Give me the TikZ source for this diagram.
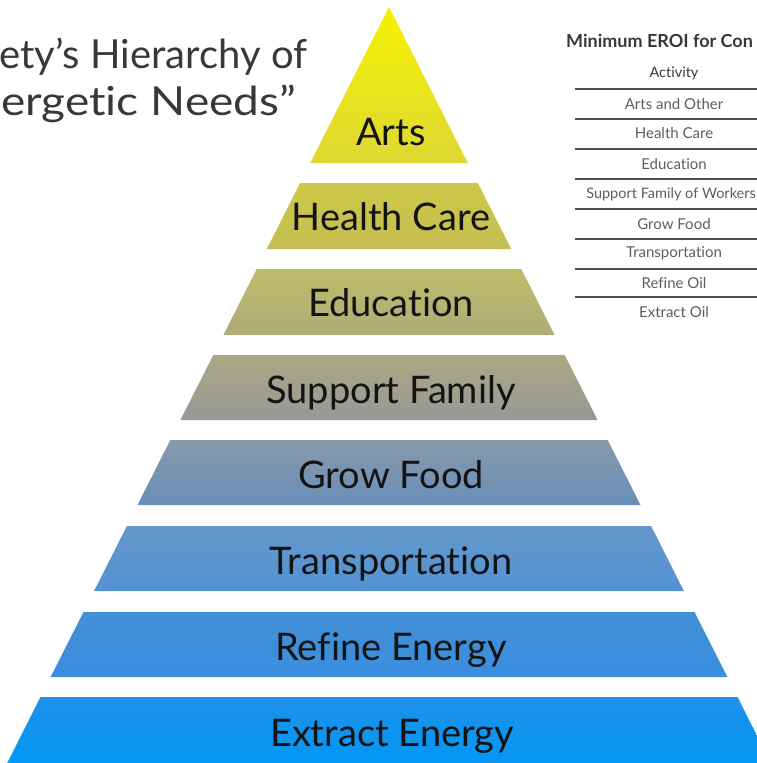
\documentclass[tikz,border=0pt]{standalone}
\usepackage{fontspec}
\setmainfont{Lato}[Ligatures=NoCommon]
\definecolor{titlegray}{HTML}{383838}
\definecolor{rowgray}{HTML}{5E5E5E}
\definecolor{rulegray}{HTML}{505050}
\definecolor{labelblack}{HTML}{141414}
\begin{document}
\begin{tikzpicture}[x=1pt,y=-1pt,
  layerlabel/.style={anchor=base,text=labelblack,font=\fontsize{38}{38}\selectfont,inner sep=0pt},
  rowtext/.style={anchor=center,text=rowgray,font=\fontsize{15}{16}\selectfont,inner sep=0pt},
  tablerule/.style={draw=rulegray,line width=1.1pt},
  bigtitle/.style={anchor=base west,text=titlegray,font=\fontsize{40}{40}\selectfont,inner sep=0pt}]
\useasboundingbox (0,0) rectangle (757,763);
\clip (0,0) rectangle (757,763);
% pyramid layers
\shade[top color={rgb,255:red,246;green,242;blue,0},bottom color={rgb,255:red,222;green,216;blue,52}]
  (389,7) -- (467.8,163) -- (310.2,163) -- cycle;
\shade[top color={rgb,255:red,206;green,200;blue,70},bottom color={rgb,255:red,196;green,190;blue,84}]
  (300.1,183) -- (477.9,183) -- (511.2,249) -- (266.8,249) -- cycle;
\shade[top color={rgb,255:red,190;green,188;blue,104},bottom color={rgb,255:red,174;green,172;blue,120}]
  (256.7,269) -- (521.3,269) -- (554.6,335) -- (223.4,335) -- cycle;
\shade[top color={rgb,255:red,170;green,168;blue,132},bottom color={rgb,255:red,152;green,152;blue,150}]
  (213.3,355) -- (564.7,355) -- (597.6,420) -- (180.4,420) -- cycle;
\shade[top color={rgb,255:red,136;green,152;blue,168},bottom color={rgb,255:red,104;green,144;blue,186}]
  (170.3,440) -- (607.7,440) -- (640.5,505) -- (137.5,505) -- cycle;
\shade[top color={rgb,255:red,100;green,152;blue,202},bottom color={rgb,255:red,84;green,146;blue,212}]
  (126.9,526) -- (651.1,526) -- (683.9,591) -- (94.1,591) -- cycle;
\shade[top color={rgb,255:red,66;green,144;blue,214},bottom color={rgb,255:red,58;green,142;blue,224}]
  (83.5,612) -- (694.5,612) -- (727.4,677) -- (50.6,677) -- cycle;
\shade[top color={rgb,255:red,30;green,144;blue,232},bottom color={rgb,255:red,0;green,152;blue,246}]
  (40.5,697) -- (737.5,697) -- (774.3,770) -- (3.7,770) -- cycle;
% labels
\node[layerlabel] (arts) at (391,145) {Arts};
\node[layerlabel] (health) at (391,230) {Health Care};
\node[layerlabel] (edu) at (391,316) {Education};
\node[layerlabel] (family) at (391,403) {Support Family};
\node[layerlabel] (food) at (391,488) {Grow Food};
\node[layerlabel] (transport) at (391,574) {Transportation};
\node[layerlabel] (refine) at (391,660) {Refine Energy};
\node[layerlabel] (extract) at (392,746) {Extract Energy};
% title
\node[bigtitle] (t1) at (-1,68) {ety’s Hierarchy of};
\node[bigtitle] (t2) at (1,115) {\scalebox{1.15}[1]{ergetic Needs”}};
% table
\node[anchor=base west,text=titlegray,font=\bfseries\fontsize{18}{18}\selectfont,inner sep=0pt] (ttitle) at (566,47) {Minimum EROI for Con};
\node[anchor=center,text=titlegray,font=\fontsize{14.5}{15}\selectfont,inner sep=0pt] (act) at (674,73) {Activity};
\foreach \yy in {89,119,149,179,209,239,269,297}{
  \draw[tablerule] (575,\yy) -- (760,\yy);
}
\node[rowtext] (r1) at (674,104) {Arts and Other};
\node[rowtext] (r2) at (674,133) {Health Care};
\node[rowtext] (r3) at (674,164) {Education};
\node[rowtext,anchor=east,font=\fontsize{14.5}{15}\selectfont] (r4) at (756,194) {Support Family of Workers};
\node[rowtext] (r5) at (674,224) {Grow Food};
\node[rowtext] (r6) at (674,253) {Transportation};
\node[rowtext] (r7) at (674,283) {Refine Oil};
\node[rowtext] (r8) at (674,312) {Extract Oil};
\end{tikzpicture}
\end{document}
